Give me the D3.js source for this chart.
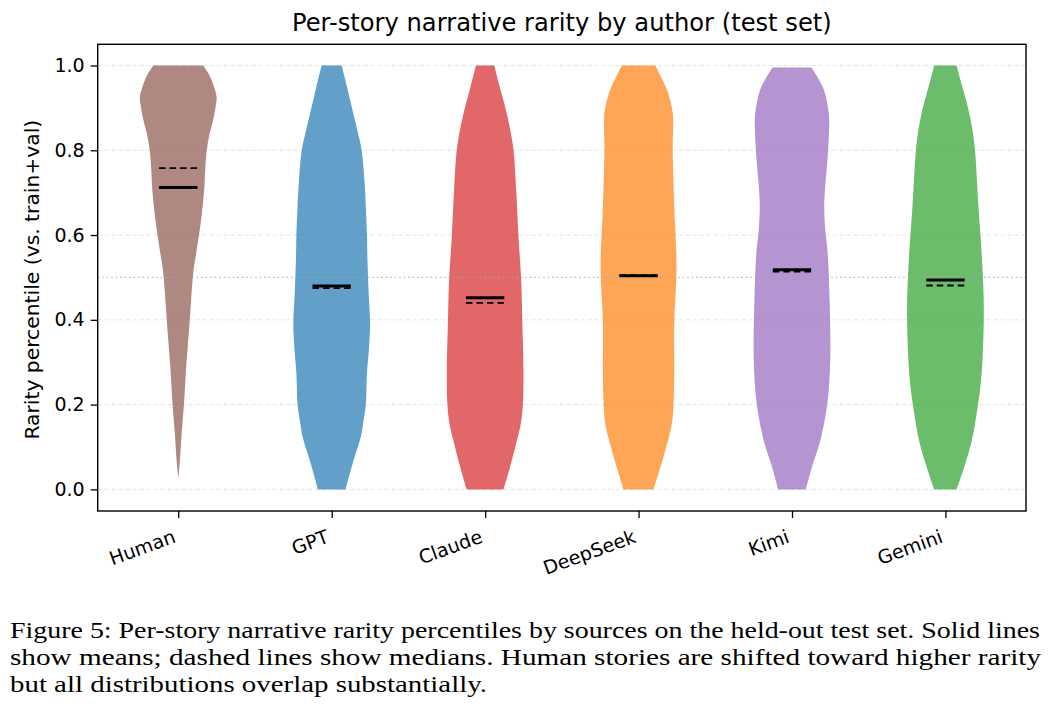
<!DOCTYPE html>
<html>
<head>
<meta charset="utf-8">
<script src="https://cdn.jsdelivr.net/npm/d3@7/dist/d3.min.js"></script>
<style>
  html, body { margin: 0; padding: 0; background: #fff; }
  svg { display: block; }
</style>
</head>
<body>
<svg id="chart" width="1060" height="707"></svg>
<script>
// ---------------- DATA ----------------
const categories = ["Human", "GPT", "Claude", "DeepSeek", "Kimi", "Gemini"];
const colors = ["#8c564b", "#1f77b4", "#d62728", "#ff7f0e", "#9467bd", "#2ca02c"];
const means   = [0.712, 0.480, 0.452, 0.504, 0.518, 0.494];
const medians = [0.758, 0.475, 0.440, 0.505, 0.514, 0.481];
const yTicks = [0.0, 0.2, 0.4, 0.6, 0.8, 1.0];

// density profiles: [value, relative half-width]
const humanProfile = [[1.0,0.65],[0.985,0.76],[0.97,0.85],[0.945,0.95],[0.925,1.0],[0.90,0.97],[0.868,0.90],[0.836,0.81],[0.797,0.74],[0.75,0.70],[0.711,0.68],[0.632,0.59],[0.553,0.46],[0.518,0.40],[0.46,0.345],[0.40,0.30],[0.34,0.25],[0.28,0.20],[0.203,0.15],[0.124,0.083],[0.069,0.044],[0.026,0.0]];
const gptProfile = [[1.0,0.26],[0.95,0.40],[0.903,0.52],[0.85,0.66],[0.80,0.78],[0.72,0.86],[0.667,0.89],[0.60,0.92],[0.55,0.93],[0.47,0.96],[0.39,1.0],[0.33,0.97],[0.274,0.92],[0.20,0.89],[0.156,0.82],[0.124,0.76],[0.077,0.60],[0.04,0.48],[0.0,0.36]];
const claudeProfile = [[1.0,0.24],[0.95,0.38],[0.903,0.52],[0.85,0.65],[0.80,0.74],[0.707,0.81],[0.596,0.87],[0.494,0.94],[0.393,0.97],[0.274,1.0],[0.195,0.98],[0.15,0.92],[0.116,0.83],[0.053,0.65],[0.0,0.48]];
const deepseekProfile = [[1.0,0.44],[0.97,0.60],[0.943,0.74],[0.888,0.89],[0.80,0.89],[0.667,0.93],[0.525,0.99],[0.392,0.93],[0.274,0.93],[0.20,0.91],[0.156,0.87],[0.077,0.65],[0.0,0.39]];
const kimiProfile = [[0.995,0.51],[0.97,0.68],[0.943,0.83],[0.90,0.94],[0.872,0.97],[0.785,0.93],[0.72,0.87],[0.667,0.84],[0.61,0.87],[0.557,0.93],[0.447,0.98],[0.321,1.0],[0.25,0.97],[0.195,0.91],[0.116,0.74],[0.053,0.52],[0.0,0.36]];
const geminiProfile = [[1.0,0.29],[0.95,0.44],[0.903,0.58],[0.85,0.70],[0.80,0.77],[0.667,0.86],[0.549,0.95],[0.431,1.0],[0.313,0.97],[0.25,0.92],[0.195,0.84],[0.116,0.69],[0.053,0.49],[0.0,0.29]];
const profiles = [humanProfile, gptProfile, claudeProfile, deepseekProfile, kimiProfile, geminiProfile];

const titleText = "Per-story narrative rarity by author (test set)";
const yLabelText = "Rarity percentile (vs. train+val)";
const captionLines = [
  "Figure 5: Per-story narrative rarity percentiles by sources on the held-out test set. Solid lines",
  "show means; dashed lines show medians. Human stories are shifted toward higher rarity",
  "but all distributions overlap substantially."
];

// ---------------- LAYOUT ----------------
const svg = d3.select("#chart");
const plot = { left: 97.7, right: 1026, top: 44.3, bottom: 511 };
const font = "DejaVu Sans, sans-serif";

const x = d3.scaleLinear().domain([-0.525, 5.525]).range([plot.left, plot.right]);
const y = d3.scaleLinear().domain([-0.051, 1.05]).range([plot.bottom, plot.top]);
const violinWidth = 0.5;   // data units (full width)
const lineWidth = 0.25;    // mean/median line width, data units

// grid lines
svg.append("g").selectAll("line").data(yTicks).join("line")
  .attr("x1", plot.left).attr("x2", plot.right)
  .attr("y1", d => y(d)).attr("y2", d => y(d))
  .attr("stroke", "#e3e3e3").attr("stroke-width", 1)
  .attr("stroke-dasharray", "4,3");

// violins
const halfPx = (x(violinWidth) - x(0)) / 2;
categories.forEach((c, i) => {
  const cx = x(i);
  const area = d3.area()
    .y(d => y(d[0]))
    .x0(d => cx - d[1] * halfPx)
    .x1(d => cx + d[1] * halfPx)
    .curve(d3.curveCatmullRom.alpha(0.5));
  svg.append("path")
    .datum(profiles[i])
    .attr("d", area)
    .attr("fill", colors[i])
    .attr("fill-opacity", 0.7)
    .attr("stroke", "none");
});

// reference line at 0.5
svg.append("line")
  .attr("x1", plot.left).attr("x2", plot.right)
  .attr("y1", y(0.5)).attr("y2", y(0.5))
  .attr("stroke", "#a9a9a9").attr("stroke-width", 1.2)
  .attr("stroke-dasharray", "1.5,3").attr("opacity", 0.8);

// medians (dashed) and means (solid)
const lw = (x(lineWidth) - x(0)) / 2;
svg.append("g").selectAll("line").data(medians).join("line")
  .attr("x1", (d, i) => x(i) - lw).attr("x2", (d, i) => x(i) + lw)
  .attr("y1", d => y(d)).attr("y2", d => y(d))
  .attr("stroke", "#000").attr("stroke-width", 1.8)
  .attr("stroke-dasharray", "6.5,4");
svg.append("g").selectAll("line").data(means).join("line")
  .attr("x1", (d, i) => x(i) - lw).attr("x2", (d, i) => x(i) + lw)
  .attr("y1", d => y(d)).attr("y2", d => y(d))
  .attr("stroke", "#000").attr("stroke-width", 3);

// axes
const yAxis = d3.axisLeft(y).tickValues(yTicks).tickFormat(d3.format(".1f")).tickSize(7).tickPadding(6);
const gy = svg.append("g").attr("transform", `translate(${plot.left},0)`).call(yAxis);
gy.select(".domain").remove();
gy.selectAll(".tick line").attr("stroke", "#000").attr("stroke-width", 1.3);
gy.selectAll(".tick text").attr("font-family", font).attr("font-size", 19).attr("fill", "#000");

const xAxis = d3.axisBottom(x).tickValues(d3.range(categories.length)).tickFormat(i => categories[i]).tickSize(7);
const gx = svg.append("g").attr("transform", `translate(0,${plot.bottom})`).call(xAxis);
gx.select(".domain").remove();
gx.selectAll(".tick line").attr("stroke", "#000").attr("stroke-width", 1.3);
gx.selectAll(".tick text")
  .attr("font-family", font).attr("font-size", 19).attr("fill", "#000")
  .attr("text-anchor", "end")
  .attr("dy", null).attr("y", null)
  .attr("transform", "translate(-2,31) rotate(-20)");

// frame
svg.append("rect")
  .attr("x", plot.left).attr("y", plot.top)
  .attr("width", plot.right - plot.left).attr("height", plot.bottom - plot.top)
  .attr("fill", "none").attr("stroke", "#000").attr("stroke-width", 1.4);

// title
svg.append("text")
  .attr("x", (plot.left + plot.right) / 2).attr("y", 31)
  .attr("text-anchor", "middle")
  .attr("font-family", font).attr("font-size", 24.2).attr("fill", "#000")
  .text(titleText);

// y label
svg.append("text")
  .attr("transform", `translate(39,${(plot.top + plot.bottom) / 2 + 2}) rotate(-90)`)
  .attr("text-anchor", "middle")
  .attr("font-family", font).attr("font-size", 20.3).attr("fill", "#000")
  .text(yLabelText);

// caption
const capLens = [1030, 1031, 477];
svg.append("g").selectAll("text").data(captionLines).join("text")
  .attr("x", 10).attr("y", (d, i) => 638 + i * 27)
  .attr("font-family", "Liberation Serif, serif").attr("font-size", 22.5).attr("fill", "#000")
  .attr("textLength", (d, i) => capLens[i]).attr("lengthAdjust", "spacingAndGlyphs")
  .text(d => d);
</script>
</body>
</html>
